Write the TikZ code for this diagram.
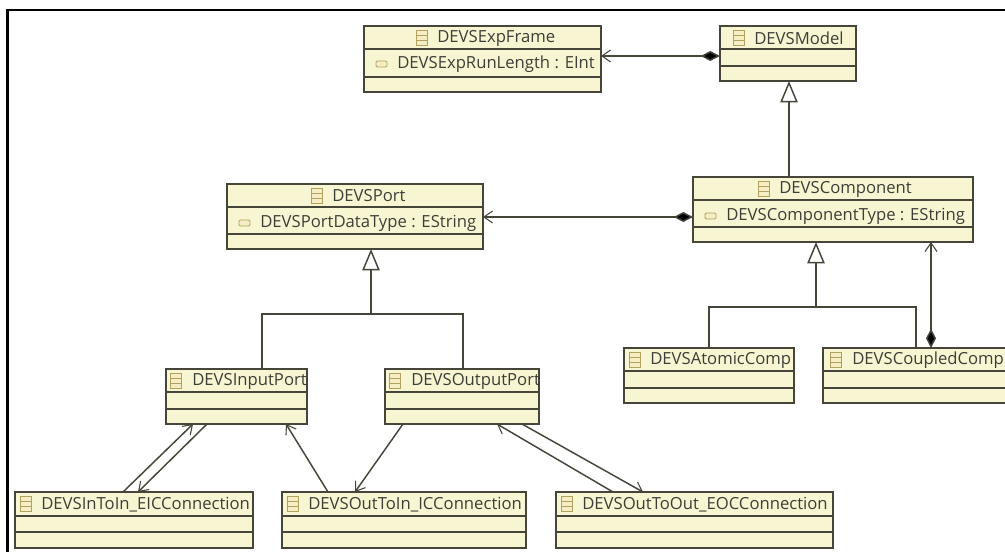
\documentclass[tikz,border=0pt]{standalone}
\usepackage{fontspec}
\setmainfont{Open Sans}
\usetikzlibrary{arrows.meta,calc}
\definecolor{umlfill}{HTML}{F8F6D2}
\definecolor{umlline}{HTML}{45453A}
\definecolor{umltext}{HTML}{3E3E38}
\definecolor{umlicon}{HTML}{B0A25E}
\definecolor{umliconfill}{HTML}{F5EEC4}
\tikzset{
  umlbox/.style={draw=umlline,fill=umlfill,line width=1.3pt,rectangle,inner sep=0pt,outer sep=0pt,anchor=north west},
  umllabel/.style={anchor=west,inner sep=0pt,text=umltext,font=\fontsize{12.5pt}{14pt}\selectfont},
  umldivider/.style={draw=umlline,line width=1.2pt},
  umlclassicon/.style={draw=umlicon,fill=umliconfill,line width=.7pt},
  umlattricon/.style={draw=umlicon,fill=umliconfill,line width=.7pt,rounded corners=1pt},
  link/.style={draw=umlline,line width=1.1pt},
  openhead/.style={link,-{Straight Barb[length=6.5pt,width=9pt,line width=.8pt]}},
  composed/.style={link,{Diamond[length=14.5pt,width=7.5pt,fill=black]}-{Straight Barb[length=6.5pt,width=9pt,line width=.8pt]}},
  generalize/.style={link,-{Triangle[open,length=16pt,width=13pt,fill=white,line width=1.1pt]}},
  frameline/.style={draw=black,line width=2.2pt}
}
% name, x1, y1, x2, y2, divider1, divider2, icon x
\newcommand{\classbox}[8]{%
  \node[umlbox,minimum width={(#4-#2)*0.75pt},minimum height={(#5-#3)*0.75pt}] (#1) at (#2,#3) {};
  \draw[umldivider] ($(#1.north west)+(0,#6-#3)$) -- ($(#1.north east)+(0,#6-#3)$);
  \draw[umldivider] ($(#1.north west)+(0,#7-#3)$) -- ($(#1.north east)+(0,#7-#3)$);
  \draw[umlclassicon] (#8,#3+4) rectangle (#8+11,#3+19);
  \draw[umlclassicon] (#8,#3+9) -- (#8+11,#3+9) (#8,#3+14) -- (#8+11,#3+14);
}
% node name, icon x, text x, y centre, text
\newcommand{\attribute}[5]{%
  \draw[umlattricon] (#2,#4-3) rectangle (#2+11,#4+3);
  \node[umllabel] (#1) at (#3,#4) {#5};
}
\begin{document}
\begin{tikzpicture}[x=0.75pt,y=-0.75pt]
\useasboundingbox (0,0) rectangle (1005,552);
\clip (0,0) rectangle (1005,552);
\coordinate (framecorner) at (7.5,10);
\coordinate (frametop) at (1005,10);
\coordinate (framebottom) at (7.5,552);
\draw[frameline] (frametop) -- (framecorner) -- (framebottom);

\classbox{expframe}{364}{26}{601}{92}{49}{77}{416}
\node[umllabel] (expframe-t) at (437,38) {DEVSExpFrame};
\attribute{expframe-a}{376}{397}{64}{DEVSExpRunLength : EInt}

\classbox{model}{720}{26}{856}{81}{49}{66}{733}
\node[umllabel] (model-t) at (754,38) {DEVSModel};

\classbox{component}{693}{177}{973}{242}{200}{227}{758}
\node[umllabel] (component-t) at (779,189) {DEVSComponent};
\attribute{component-a}{705}{726}{216}{DEVSComponentType : EString}

\classbox{port}{227}{184}{483}{249}{207}{234}{311}
\node[umllabel] (port-t) at (332,196) {DEVSPort};
\attribute{port-a}{239}{260}{223}{DEVSPortDataType : EString}

\classbox{atomic}{624}{348}{794}{403}{371}{388}{629}
\node[umllabel] (atomic-t) at (650,360) {DEVSAtomicComp};

\classbox{coupled}{823}{348}{1012}{403}{371}{388}{830}
\node[umllabel] (coupled-t) at (852,360) {DEVSCoupledComp};

\classbox{inputport}{166}{369}{307}{424}{392}{409}{170}
\node[umllabel] (inputport-t) at (192,381) {DEVSInputPort};

\classbox{outputport}{385}{369}{539}{424}{392}{409}{389}
\node[umllabel] (outputport-t) at (411,381) {DEVSOutputPort};

\classbox{intoin}{15}{492}{253}{548}{516}{532}{20}
\node[umllabel] (intoin-t) at (41,505) {DEVSInToIn\_EICConnection};

\classbox{outtoin}{282}{492}{526}{548}{516}{532}{287}
\node[umllabel] (outtoin-t) at (308,505) {DEVSOutToIn\_ICConnection};

\classbox{outtoout}{556}{492}{833}{548}{516}{532}{561}
\node[umllabel] (outtoout-t) at (582,505) {DEVSOutToOut\_EOCConnection};

% compositions
\draw[composed] ($(model.north west)+(0,30)$) -- ($(expframe.north east)+(0,30)$);
\draw[composed] ($(component.north west)+(0,40)$) -- ($(port.north east)+(0,33)$);
\draw[composed] ($(coupled.north west)+(108,0)$) -- ($(component.south west)+(238,0)$);

% generalisations
\draw[generalize] ($(component.north west)+(96,0)$) -- ($(model.south west)+(69,0)$);

\coordinate (portbus) at ($(port.south west)+(144,65)$);
\draw[link] ($(inputport.north west)+(96,0)$) |- (portbus);
\draw[link] ($(outputport.north west)+(78,0)$) |- (portbus);
\draw[generalize] (portbus) -- ($(port.south west)+(144,0)$);

\coordinate (compbus) at ($(component.south west)+(123,65)$);
\draw[link] ($(atomic.north west)+(85,0)$) |- (compbus);
\draw[link] ($(coupled.north west)+(93,0)$) |- (compbus);
\draw[generalize] (compbus) -- ($(component.south west)+(123,0)$);

% references
\draw[openhead] ($(intoin.north west)+(108,0)$) -- ($(inputport.south west)+(27,0)$);
\draw[openhead] ($(inputport.south west)+(41,0)$) -- ($(intoin.north west)+(123,0)$);
\draw[openhead] ($(outtoin.north west)+(46,0)$) -- ($(inputport.south west)+(120,0)$);
\draw[openhead] ($(outputport.south west)+(18,0)$) -- ($(outtoin.north west)+(73,0)$);
\draw[openhead] ($(outtoout.north west)+(57,0)$) -- ($(outputport.south west)+(112,0)$);
\draw[openhead] ($(outputport.south west)+(137,0)$) -- ($(outtoout.north west)+(87,0)$);
\end{tikzpicture}
\end{document}
